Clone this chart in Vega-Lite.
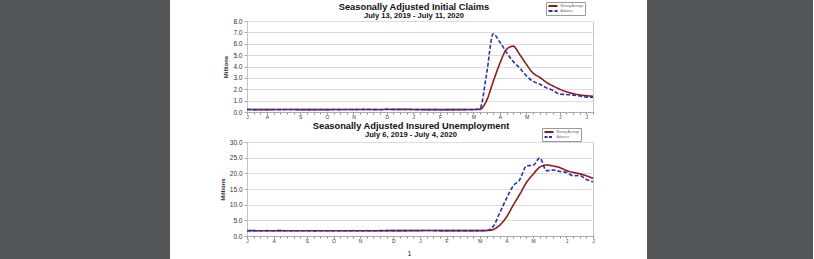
{
  "$schema": "https://vega.github.io/schema/vega-lite/v6.json",
  "padding": 0,
  "background": "white",
  "config": {
    "font": "Liberation Sans",
    "view": {"stroke": "#c4c4c4", "strokeWidth": 1},
    "axis": {"labelFont": "Liberation Sans", "titleFont": "Liberation Sans", "labelColor": "#333", "titleColor": "#222"},
    "legend": {"orient": "none", "title": null, "symbolType": "stroke", "symbolSize": 81, "clipHeight": 5, "symbolStrokeWidth": 2, "labelFontSize": 3.2, "labelColor": "#666", "padding": 1.5, "rowPadding": 0, "strokeColor": "#999", "fillColor": "white", "labelOffset": 2}
  },
  "datasets": {
    "claims": [
      {"week":"2019-07-13","series":"Moving Average","value":0.219},
      {"week":"2019-07-20","series":"Moving Average","value":0.213},
      {"week":"2019-07-27","series":"Moving Average","value":0.212},
      {"week":"2019-08-03","series":"Moving Average","value":0.212},
      {"week":"2019-08-10","series":"Moving Average","value":0.213},
      {"week":"2019-08-17","series":"Moving Average","value":0.214},
      {"week":"2019-08-24","series":"Moving Average","value":0.214},
      {"week":"2019-08-31","series":"Moving Average","value":0.216},
      {"week":"2019-09-07","series":"Moving Average","value":0.212},
      {"week":"2019-09-14","series":"Moving Average","value":0.212},
      {"week":"2019-09-21","series":"Moving Average","value":0.211},
      {"week":"2019-09-28","series":"Moving Average","value":0.211},
      {"week":"2019-10-05","series":"Moving Average","value":0.212},
      {"week":"2019-10-12","series":"Moving Average","value":0.214},
      {"week":"2019-10-19","series":"Moving Average","value":0.214},
      {"week":"2019-10-26","series":"Moving Average","value":0.214},
      {"week":"2019-11-02","series":"Moving Average","value":0.214},
      {"week":"2019-11-09","series":"Moving Average","value":0.217},
      {"week":"2019-11-16","series":"Moving Average","value":0.220},
      {"week":"2019-11-23","series":"Moving Average","value":0.219},
      {"week":"2019-11-30","series":"Moving Average","value":0.217},
      {"week":"2019-12-07","series":"Moving Average","value":0.224},
      {"week":"2019-12-14","series":"Moving Average","value":0.225},
      {"week":"2019-12-21","series":"Moving Average","value":0.228},
      {"week":"2019-12-28","series":"Moving Average","value":0.232},
      {"week":"2020-01-04","series":"Moving Average","value":0.222},
      {"week":"2020-01-11","series":"Moving Average","value":0.215},
      {"week":"2020-01-18","series":"Moving Average","value":0.212},
      {"week":"2020-01-25","series":"Moving Average","value":0.211},
      {"week":"2020-02-01","series":"Moving Average","value":0.208},
      {"week":"2020-02-08","series":"Moving Average","value":0.208},
      {"week":"2020-02-15","series":"Moving Average","value":0.208},
      {"week":"2020-02-22","series":"Moving Average","value":0.209},
      {"week":"2020-02-29","series":"Moving Average","value":0.213},
      {"week":"2020-03-07","series":"Moving Average","value":0.214},
      {"week":"2020-03-14","series":"Moving Average","value":0.232},
      {"week":"2020-03-21","series":"Moving Average","value":0.998},
      {"week":"2020-03-28","series":"Moving Average","value":2.667},
      {"week":"2020-04-04","series":"Moving Average","value":4.268},
      {"week":"2020-04-11","series":"Moving Average","value":5.507},
      {"week":"2020-04-18","series":"Moving Average","value":5.790},
      {"week":"2020-04-25","series":"Moving Average","value":5.040},
      {"week":"2020-05-02","series":"Moving Average","value":4.181},
      {"week":"2020-05-09","series":"Moving Average","value":3.413},
      {"week":"2020-05-16","series":"Moving Average","value":3.044},
      {"week":"2020-05-23","series":"Moving Average","value":2.608},
      {"week":"2020-05-30","series":"Moving Average","value":2.288},
      {"week":"2020-06-06","series":"Moving Average","value":2.008},
      {"week":"2020-06-13","series":"Moving Average","value":1.782},
      {"week":"2020-06-20","series":"Moving Average","value":1.621},
      {"week":"2020-06-27","series":"Moving Average","value":1.500},
      {"week":"2020-07-04","series":"Moving Average","value":1.436},
      {"week":"2020-07-11","series":"Moving Average","value":1.376},
      {"week":"2019-07-13","series":"Advance","value":0.216},
      {"week":"2019-07-20","series":"Advance","value":0.208},
      {"week":"2019-07-27","series":"Advance","value":0.217},
      {"week":"2019-08-03","series":"Advance","value":0.209},
      {"week":"2019-08-10","series":"Advance","value":0.220},
      {"week":"2019-08-17","series":"Advance","value":0.211},
      {"week":"2019-08-24","series":"Advance","value":0.217},
      {"week":"2019-08-31","series":"Advance","value":0.219},
      {"week":"2019-09-07","series":"Advance","value":0.204},
      {"week":"2019-09-14","series":"Advance","value":0.208},
      {"week":"2019-09-21","series":"Advance","value":0.213},
      {"week":"2019-09-28","series":"Advance","value":0.219},
      {"week":"2019-10-05","series":"Advance","value":0.210},
      {"week":"2019-10-12","series":"Advance","value":0.214},
      {"week":"2019-10-19","series":"Advance","value":0.212},
      {"week":"2019-10-26","series":"Advance","value":0.218},
      {"week":"2019-11-02","series":"Advance","value":0.211},
      {"week":"2019-11-09","series":"Advance","value":0.225},
      {"week":"2019-11-16","series":"Advance","value":0.227},
      {"week":"2019-11-23","series":"Advance","value":0.213},
      {"week":"2019-11-30","series":"Advance","value":0.203},
      {"week":"2019-12-07","series":"Advance","value":0.252},
      {"week":"2019-12-14","series":"Advance","value":0.234},
      {"week":"2019-12-21","series":"Advance","value":0.222},
      {"week":"2019-12-28","series":"Advance","value":0.220},
      {"week":"2020-01-04","series":"Advance","value":0.214},
      {"week":"2020-01-11","series":"Advance","value":0.204},
      {"week":"2020-01-18","series":"Advance","value":0.211},
      {"week":"2020-01-25","series":"Advance","value":0.216},
      {"week":"2020-02-01","series":"Advance","value":0.201},
      {"week":"2020-02-08","series":"Advance","value":0.205},
      {"week":"2020-02-15","series":"Advance","value":0.210},
      {"week":"2020-02-22","series":"Advance","value":0.219},
      {"week":"2020-02-29","series":"Advance","value":0.217},
      {"week":"2020-03-07","series":"Advance","value":0.211},
      {"week":"2020-03-14","series":"Advance","value":0.282},
      {"week":"2020-03-21","series":"Advance","value":3.307},
      {"week":"2020-03-28","series":"Advance","value":6.867},
      {"week":"2020-04-04","series":"Advance","value":6.150},
      {"week":"2020-04-11","series":"Advance","value":5.237},
      {"week":"2020-04-18","series":"Advance","value":4.442},
      {"week":"2020-04-25","series":"Advance","value":3.867},
      {"week":"2020-05-02","series":"Advance","value":3.176},
      {"week":"2020-05-09","series":"Advance","value":2.687},
      {"week":"2020-05-16","series":"Advance","value":2.446},
      {"week":"2020-05-23","series":"Advance","value":2.123},
      {"week":"2020-05-30","series":"Advance","value":1.897},
      {"week":"2020-06-06","series":"Advance","value":1.566},
      {"week":"2020-06-13","series":"Advance","value":1.540},
      {"week":"2020-06-20","series":"Advance","value":1.482},
      {"week":"2020-06-27","series":"Advance","value":1.413},
      {"week":"2020-07-04","series":"Advance","value":1.310},
      {"week":"2020-07-11","series":"Advance","value":1.300}
    ],
    "insured": [
      {"week":"2019-07-06","series":"Moving Average","value":1.70},
      {"week":"2019-07-13","series":"Moving Average","value":1.70},
      {"week":"2019-07-20","series":"Moving Average","value":1.69},
      {"week":"2019-07-27","series":"Moving Average","value":1.69},
      {"week":"2019-08-03","series":"Moving Average","value":1.69},
      {"week":"2019-08-10","series":"Moving Average","value":1.70},
      {"week":"2019-08-17","series":"Moving Average","value":1.69},
      {"week":"2019-08-24","series":"Moving Average","value":1.69},
      {"week":"2019-08-31","series":"Moving Average","value":1.68},
      {"week":"2019-09-07","series":"Moving Average","value":1.67},
      {"week":"2019-09-14","series":"Moving Average","value":1.66},
      {"week":"2019-09-21","series":"Moving Average","value":1.66},
      {"week":"2019-09-28","series":"Moving Average","value":1.66},
      {"week":"2019-10-05","series":"Moving Average","value":1.67},
      {"week":"2019-10-12","series":"Moving Average","value":1.68},
      {"week":"2019-10-19","series":"Moving Average","value":1.68},
      {"week":"2019-10-26","series":"Moving Average","value":1.69},
      {"week":"2019-11-02","series":"Moving Average","value":1.69},
      {"week":"2019-11-09","series":"Moving Average","value":1.69},
      {"week":"2019-11-16","series":"Moving Average","value":1.69},
      {"week":"2019-11-23","series":"Moving Average","value":1.69},
      {"week":"2019-11-30","series":"Moving Average","value":1.70},
      {"week":"2019-12-07","series":"Moving Average","value":1.71},
      {"week":"2019-12-14","series":"Moving Average","value":1.72},
      {"week":"2019-12-21","series":"Moving Average","value":1.72},
      {"week":"2019-12-28","series":"Moving Average","value":1.73},
      {"week":"2020-01-04","series":"Moving Average","value":1.73},
      {"week":"2020-01-11","series":"Moving Average","value":1.74},
      {"week":"2020-01-18","series":"Moving Average","value":1.74},
      {"week":"2020-01-25","series":"Moving Average","value":1.73},
      {"week":"2020-02-01","series":"Moving Average","value":1.73},
      {"week":"2020-02-08","series":"Moving Average","value":1.72},
      {"week":"2020-02-15","series":"Moving Average","value":1.72},
      {"week":"2020-02-22","series":"Moving Average","value":1.72},
      {"week":"2020-02-29","series":"Moving Average","value":1.72},
      {"week":"2020-03-07","series":"Moving Average","value":1.71},
      {"week":"2020-03-14","series":"Moving Average","value":1.73},
      {"week":"2020-03-21","series":"Moving Average","value":2.07},
      {"week":"2020-03-28","series":"Moving Average","value":3.49},
      {"week":"2020-04-04","series":"Moving Average","value":6.06},
      {"week":"2020-04-11","series":"Moving Average","value":9.80},
      {"week":"2020-04-18","series":"Moving Average","value":13.36},
      {"week":"2020-04-25","series":"Moving Average","value":17.09},
      {"week":"2020-05-02","series":"Moving Average","value":19.73},
      {"week":"2020-05-09","series":"Moving Average","value":21.96},
      {"week":"2020-05-16","series":"Moving Average","value":22.67},
      {"week":"2020-05-23","series":"Moving Average","value":22.34},
      {"week":"2020-05-30","series":"Moving Average","value":21.85},
      {"week":"2020-06-06","series":"Moving Average","value":20.90},
      {"week":"2020-06-13","series":"Moving Average","value":20.30},
      {"week":"2020-06-20","series":"Moving Average","value":19.86},
      {"week":"2020-06-27","series":"Moving Average","value":19.22},
      {"week":"2020-07-04","series":"Moving Average","value":18.40},
      {"week":"2019-07-06","series":"Advance","value":1.69},
      {"week":"2019-07-13","series":"Advance","value":1.70},
      {"week":"2019-07-20","series":"Advance","value":1.68},
      {"week":"2019-07-27","series":"Advance","value":1.70},
      {"week":"2019-08-03","series":"Advance","value":1.68},
      {"week":"2019-08-10","series":"Advance","value":1.72},
      {"week":"2019-08-17","series":"Advance","value":1.67},
      {"week":"2019-08-24","series":"Advance","value":1.69},
      {"week":"2019-08-31","series":"Advance","value":1.66},
      {"week":"2019-09-07","series":"Advance","value":1.67},
      {"week":"2019-09-14","series":"Advance","value":1.64},
      {"week":"2019-09-21","series":"Advance","value":1.66},
      {"week":"2019-09-28","series":"Advance","value":1.68},
      {"week":"2019-10-05","series":"Advance","value":1.69},
      {"week":"2019-10-12","series":"Advance","value":1.68},
      {"week":"2019-10-19","series":"Advance","value":1.69},
      {"week":"2019-10-26","series":"Advance","value":1.70},
      {"week":"2019-11-02","series":"Advance","value":1.69},
      {"week":"2019-11-09","series":"Advance","value":1.70},
      {"week":"2019-11-16","series":"Advance","value":1.66},
      {"week":"2019-11-23","series":"Advance","value":1.72},
      {"week":"2019-11-30","series":"Advance","value":1.73},
      {"week":"2019-12-07","series":"Advance","value":1.72},
      {"week":"2019-12-14","series":"Advance","value":1.72},
      {"week":"2019-12-21","series":"Advance","value":1.73},
      {"week":"2019-12-28","series":"Advance","value":1.76},
      {"week":"2020-01-04","series":"Advance","value":1.73},
      {"week":"2020-01-11","series":"Advance","value":1.74},
      {"week":"2020-01-18","series":"Advance","value":1.73},
      {"week":"2020-01-25","series":"Advance","value":1.71},
      {"week":"2020-02-01","series":"Advance","value":1.73},
      {"week":"2020-02-08","series":"Advance","value":1.71},
      {"week":"2020-02-15","series":"Advance","value":1.73},
      {"week":"2020-02-22","series":"Advance","value":1.72},
      {"week":"2020-02-29","series":"Advance","value":1.70},
      {"week":"2020-03-07","series":"Advance","value":1.70},
      {"week":"2020-03-14","series":"Advance","value":1.78},
      {"week":"2020-03-21","series":"Advance","value":3.03},
      {"week":"2020-03-28","series":"Advance","value":7.46},
      {"week":"2020-04-04","series":"Advance","value":11.98},
      {"week":"2020-04-11","series":"Advance","value":15.98},
      {"week":"2020-04-18","series":"Advance","value":18.01},
      {"week":"2020-04-25","series":"Advance","value":22.38},
      {"week":"2020-05-02","series":"Advance","value":22.55},
      {"week":"2020-05-09","series":"Advance","value":24.91},
      {"week":"2020-05-16","series":"Advance","value":20.84},
      {"week":"2020-05-23","series":"Advance","value":21.05},
      {"week":"2020-05-30","series":"Advance","value":20.61},
      {"week":"2020-06-06","series":"Advance","value":20.29},
      {"week":"2020-06-13","series":"Advance","value":19.23},
      {"week":"2020-06-20","series":"Advance","value":19.29},
      {"week":"2020-06-27","series":"Advance","value":18.06},
      {"week":"2020-07-04","series":"Advance","value":17.34}
    ]
  },
  "spacing": 50,
  "align": "none",
  "hconcat": [
    {
      "spacing": 48,
      "align": "none",
      "hconcat": [
        {
          "width": 170, "height": 259,
          "data": {"values": [{}]},
          "mark": {"type": "point", "opacity": 0, "size": 0},
          "encoding": {},
          "view": {"fill": "#525659", "stroke": null}
        },
        {
          "spacing": 1,
          "vconcat": [
            {
              "width": 346, "height": 1,
              "data": {"values": [{}]},
              "mark": {"type": "point", "opacity": 0, "size": 0},
              "encoding": {},
              "view": {"stroke": null}
            },
            {
              "data": {"name": "claims"},
              "width": 346, "height": 91,
              "title": {"text": "Seasonally Adjusted Initial Claims", "subtitle": "July 13, 2019 - July 11, 2020", "font": "Liberation Sans", "subtitleFont": "Liberation Sans", "fontSize": 9.3, "fontWeight": "bold", "color": "#111", "subtitleFontSize": 7.6, "subtitleFontWeight": "bold", "subtitleColor": "#111", "subtitlePadding": 0, "offset": -2, "anchor": "middle", "frame": "group", "dx": -6},
              "mark": {"type": "line", "interpolate": "monotone", "strokeWidth": 1.6},
              "encoding": {
                "x": {
                  "field": "week", "type": "temporal",
                  "scale": {"type": "utc", "nice": false},
                  "axis": {
                    "title": null, "grid": false, "tickSize": 2, "tickColor": "#888", "domainColor": "#aaa",
                    "labelFontSize": 5, "labelPadding": 0.5, "labelOverlap": false, "labelFlush": false, "labelBound": false,
                    "labelExpr": "utcdate(datum.value) <= 7 || utcFormat(datum.value, '%m-%d') == '07-13' ? substring(utcFormat(datum.value, '%b'), 0, 1) : ''",
                    "values": [
                      {"year":2019,"month":7,"date":13,"utc":true},{"year":2019,"month":7,"date":20,"utc":true},{"year":2019,"month":7,"date":27,"utc":true},
                      {"year":2019,"month":8,"date":3,"utc":true},{"year":2019,"month":8,"date":10,"utc":true},{"year":2019,"month":8,"date":17,"utc":true},{"year":2019,"month":8,"date":24,"utc":true},{"year":2019,"month":8,"date":31,"utc":true},
                      {"year":2019,"month":9,"date":7,"utc":true},{"year":2019,"month":9,"date":14,"utc":true},{"year":2019,"month":9,"date":21,"utc":true},{"year":2019,"month":9,"date":28,"utc":true},
                      {"year":2019,"month":10,"date":5,"utc":true},{"year":2019,"month":10,"date":12,"utc":true},{"year":2019,"month":10,"date":19,"utc":true},{"year":2019,"month":10,"date":26,"utc":true},
                      {"year":2019,"month":11,"date":2,"utc":true},{"year":2019,"month":11,"date":9,"utc":true},{"year":2019,"month":11,"date":16,"utc":true},{"year":2019,"month":11,"date":23,"utc":true},{"year":2019,"month":11,"date":30,"utc":true},
                      {"year":2019,"month":12,"date":7,"utc":true},{"year":2019,"month":12,"date":14,"utc":true},{"year":2019,"month":12,"date":21,"utc":true},{"year":2019,"month":12,"date":28,"utc":true},
                      {"year":2020,"month":1,"date":4,"utc":true},{"year":2020,"month":1,"date":11,"utc":true},{"year":2020,"month":1,"date":18,"utc":true},{"year":2020,"month":1,"date":25,"utc":true},
                      {"year":2020,"month":2,"date":1,"utc":true},{"year":2020,"month":2,"date":8,"utc":true},{"year":2020,"month":2,"date":15,"utc":true},{"year":2020,"month":2,"date":22,"utc":true},{"year":2020,"month":2,"date":29,"utc":true},
                      {"year":2020,"month":3,"date":7,"utc":true},{"year":2020,"month":3,"date":14,"utc":true},{"year":2020,"month":3,"date":21,"utc":true},{"year":2020,"month":3,"date":28,"utc":true},
                      {"year":2020,"month":4,"date":4,"utc":true},{"year":2020,"month":4,"date":11,"utc":true},{"year":2020,"month":4,"date":18,"utc":true},{"year":2020,"month":4,"date":25,"utc":true},
                      {"year":2020,"month":5,"date":2,"utc":true},{"year":2020,"month":5,"date":9,"utc":true},{"year":2020,"month":5,"date":16,"utc":true},{"year":2020,"month":5,"date":23,"utc":true},{"year":2020,"month":5,"date":30,"utc":true},
                      {"year":2020,"month":6,"date":6,"utc":true},{"year":2020,"month":6,"date":13,"utc":true},{"year":2020,"month":6,"date":20,"utc":true},{"year":2020,"month":6,"date":27,"utc":true},
                      {"year":2020,"month":7,"date":4,"utc":true},{"year":2020,"month":7,"date":11,"utc":true}
                    ]
                  }
                },
                "y": {
                  "field": "value", "type": "quantitative",
                  "scale": {"domain": [0, 8], "nice": false},
                  "axis": {"title": "Millions", "values": [0,1,2,3,4,5,6,7,8], "format": ".1f", "grid": true, "gridColor": "#dcdcdc", "domain": false, "tickSize": 3, "tickColor": "#aaa", "labelFontSize": 6.5, "labelPadding": 2, "titleFontSize": 6, "titleFontWeight": "bold", "titlePadding": 4}
                },
                "color": {
                  "field": "series", "type": "nominal",
                  "scale": {"domain": ["Moving Average", "Advance"], "range": ["#8b1c1c", "#2f2fb0"]},
                  "legend": {"orient": "none", "legendX": 546, "legendY": 2, "encode": {"symbols": {"update": {"strokeDash": {"signal": "datum.value == 'Advance' ? [3, 1.5] : [1, 0]"}}}}}
                },
                "strokeDash": {
                  "field": "series", "type": "nominal",
                  "scale": {"domain": ["Moving Average", "Advance"], "range": [[1, 0], [4, 2]]},
                  "legend": null
                }
              }
            },
            {
              "data": {"name": "insured"},
              "width": 346, "height": 94,
              "title": {"text": "Seasonally Adjusted Insured Unemployment", "subtitle": "July 6, 2019 - July 4, 2020", "font": "Liberation Sans", "subtitleFont": "Liberation Sans", "fontSize": 9.3, "fontWeight": "bold", "color": "#111", "subtitleFontSize": 7.6, "subtitleFontWeight": "bold", "subtitleColor": "#111", "subtitlePadding": 0, "offset": 0, "anchor": "middle", "frame": "group", "dx": -9},
              "mark": {"type": "line", "interpolate": "monotone", "strokeWidth": 1.6},
              "encoding": {
                "x": {
                  "field": "week", "type": "temporal",
                  "scale": {"type": "utc", "nice": false},
                  "axis": {
                    "title": "1", "titleFontSize": 7, "titleFontWeight": "normal", "titlePadding": 6, "titleX": 162,
                    "grid": false, "tickSize": 2, "tickColor": "#888", "domainColor": "#aaa",
                    "labelFontSize": 5, "labelPadding": 0.5, "labelOverlap": false, "labelFlush": false, "labelBound": false,
                    "labelExpr": "utcdate(datum.value) <= 7 ? substring(utcFormat(datum.value, '%b'), 0, 1) : ''",
                    "values": [
                      {"year":2019,"month":7,"date":6,"utc":true},{"year":2019,"month":7,"date":13,"utc":true},{"year":2019,"month":7,"date":20,"utc":true},{"year":2019,"month":7,"date":27,"utc":true},
                      {"year":2019,"month":8,"date":3,"utc":true},{"year":2019,"month":8,"date":10,"utc":true},{"year":2019,"month":8,"date":17,"utc":true},{"year":2019,"month":8,"date":24,"utc":true},{"year":2019,"month":8,"date":31,"utc":true},
                      {"year":2019,"month":9,"date":7,"utc":true},{"year":2019,"month":9,"date":14,"utc":true},{"year":2019,"month":9,"date":21,"utc":true},{"year":2019,"month":9,"date":28,"utc":true},
                      {"year":2019,"month":10,"date":5,"utc":true},{"year":2019,"month":10,"date":12,"utc":true},{"year":2019,"month":10,"date":19,"utc":true},{"year":2019,"month":10,"date":26,"utc":true},
                      {"year":2019,"month":11,"date":2,"utc":true},{"year":2019,"month":11,"date":9,"utc":true},{"year":2019,"month":11,"date":16,"utc":true},{"year":2019,"month":11,"date":23,"utc":true},{"year":2019,"month":11,"date":30,"utc":true},
                      {"year":2019,"month":12,"date":7,"utc":true},{"year":2019,"month":12,"date":14,"utc":true},{"year":2019,"month":12,"date":21,"utc":true},{"year":2019,"month":12,"date":28,"utc":true},
                      {"year":2020,"month":1,"date":4,"utc":true},{"year":2020,"month":1,"date":11,"utc":true},{"year":2020,"month":1,"date":18,"utc":true},{"year":2020,"month":1,"date":25,"utc":true},
                      {"year":2020,"month":2,"date":1,"utc":true},{"year":2020,"month":2,"date":8,"utc":true},{"year":2020,"month":2,"date":15,"utc":true},{"year":2020,"month":2,"date":22,"utc":true},{"year":2020,"month":2,"date":29,"utc":true},
                      {"year":2020,"month":3,"date":7,"utc":true},{"year":2020,"month":3,"date":14,"utc":true},{"year":2020,"month":3,"date":21,"utc":true},{"year":2020,"month":3,"date":28,"utc":true},
                      {"year":2020,"month":4,"date":4,"utc":true},{"year":2020,"month":4,"date":11,"utc":true},{"year":2020,"month":4,"date":18,"utc":true},{"year":2020,"month":4,"date":25,"utc":true},
                      {"year":2020,"month":5,"date":2,"utc":true},{"year":2020,"month":5,"date":9,"utc":true},{"year":2020,"month":5,"date":16,"utc":true},{"year":2020,"month":5,"date":23,"utc":true},{"year":2020,"month":5,"date":30,"utc":true},
                      {"year":2020,"month":6,"date":6,"utc":true},{"year":2020,"month":6,"date":13,"utc":true},{"year":2020,"month":6,"date":20,"utc":true},{"year":2020,"month":6,"date":27,"utc":true},
                      {"year":2020,"month":7,"date":4,"utc":true}
                    ]
                  }
                },
                "y": {
                  "field": "value", "type": "quantitative",
                  "scale": {"domain": [0, 30], "nice": false},
                  "axis": {"title": "Millions", "values": [0,5,10,15,20,25,30], "format": ".1f", "grid": true, "gridColor": "#dcdcdc", "domain": false, "tickSize": 3, "tickColor": "#aaa", "labelFontSize": 6.5, "labelPadding": 2, "titleFontSize": 6, "titleFontWeight": "bold", "titlePadding": 4}
                },
                "stroke": {
                  "field": "series", "type": "nominal",
                  "scale": {"domain": ["Advance", "Moving Average"], "range": ["#2f2fb0", "#8b1c1c"]},
                  "legend": {"orient": "none", "legendX": 542, "legendY": 128, "values": ["Moving Average", "Advance"], "encode": {"symbols": {"update": {"strokeDash": {"signal": "datum.value == 'Advance' ? [3, 1.5] : [1, 0]"}}}}}
                },
                "strokeDash": {
                  "field": "series", "type": "nominal",
                  "scale": {"domain": ["Moving Average", "Advance"], "range": [[1, 0], [4, 2]]},
                  "legend": null
                }
              }
            }
          ]
        }
      ]
    },
    {
      "width": 166, "height": 259,
      "data": {"values": [{}]},
      "mark": {"type": "point", "opacity": 0, "size": 0},
      "encoding": {},
      "view": {"fill": "#525659", "stroke": null}
    }
  ]
}
